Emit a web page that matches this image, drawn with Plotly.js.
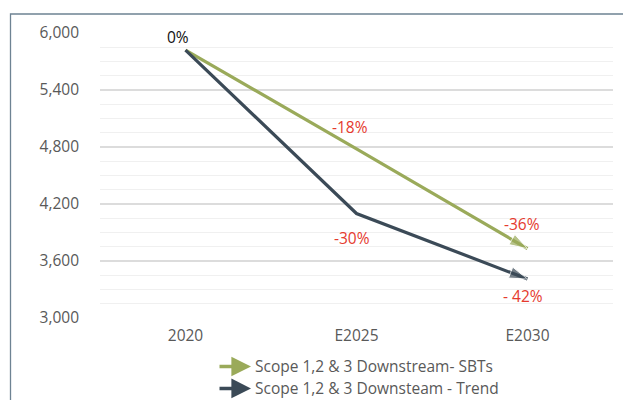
<!DOCTYPE html>
<html>
<head>
<meta charset="utf-8">
<script src="https://cdn.plot.ly/plotly-3.0.1.min.js"></script>
<style>html,body{margin:0;padding:0;background:#fff;}#chart{width:623px;height:400px;}</style>
</head>
<body>
<div id="chart"></div>
<script>
const categories = ["2020", "E2025", "E2030"];
const sbtValues = [5820, 4780, 3730];
const trendValues = [5820, 4100, 3410];
const sbtLabels = ["0%", "-18%", "-36%"];
const trendLabels = ["", "-30%", "- 42%"];
const seriesNames = ["Scope 1,2 & 3 Downstream- SBTs", "Scope 1,2 & 3 Downsteam - Trend"];
const yTicks = [3000, 3600, 4200, 4800, 5400, 6000];

const green = "#9aaa5a";
const dark = "#3b4a57";
const red = "#e53a2e";
const font = "Open Sans, Noto Sans, sans-serif";
const fs = 15.5;

function tr(vals, color, name) {
  return {
    x: categories, y: vals, name: name, type: "scatter", mode: "lines+markers",
    line: {color: color, width: 3.2},
    marker: {symbol: "arrow", angleref: "previous", size: vals.map((v, i) => i === vals.length - 1 ? 19 : 0), color: color},
    showlegend: false, hoverinfo: "skip"
  };
}

const ann = [];
// data labels (x given as category index)
ann.push({x: 0, y: sbtValues[0], text: sbtLabels[0], showarrow: false, yshift: 13, xshift: -8, font: {family: font, size: fs, color: "#111"}});
ann.push({x: 1, y: sbtValues[1], text: sbtLabels[1], showarrow: false, yshift: 22, xshift: -7, font: {family: font, size: fs, color: red}});
ann.push({x: 2, y: sbtValues[2], text: sbtLabels[2], showarrow: false, yshift: 25, xshift: -6, font: {family: font, size: fs, color: red}});
ann.push({x: 1, y: trendValues[1], text: trendLabels[1], showarrow: false, yshift: -24, xshift: -5, font: {family: font, size: fs, color: red}});
ann.push({x: 2, y: trendValues[2], text: trendLabels[2], showarrow: false, yshift: -17, xshift: -5, font: {family: font, size: fs, color: red}});

// custom legend with arrows
const legY = [-0.17, -0.247];
const colors = [green, dark];
for (let i = 0; i < 2; i++) {
  ann.push({xref: "paper", yref: "paper", x: (251 - 100) / 513, y: legY[i], ax: -33, ay: 0,
    showarrow: true, arrowhead: 2, arrowsize: 1.12, arrowwidth: 3.5, arrowcolor: colors[i], text: ""});
  ann.push({xref: "paper", yref: "paper", x: (253 - 100) / 513, y: legY[i], xanchor: "left", yanchor: "middle",
    showarrow: false, text: seriesNames[i], font: {family: font, size: fs, color: "#595959"}});
}

const layout = {
  width: 623, height: 400,
  margin: {l: 100, r: 10, t: 33, b: 82},
  paper_bgcolor: "#fff", plot_bgcolor: "#fff",
  font: {family: font, size: fs, color: "#595959"},
  xaxis: {type: "category", range: [-0.5, 2.5], showgrid: false, zeroline: false, showline: false,
    ticks: "", ticklabelstandoff: 6, tickfont: {family: font, size: fs, color: "#595959"}, fixedrange: true},
  yaxis: {range: [3000, 6000], tickvals: yTicks, tickformat: ",d", showgrid: true, gridcolor: "#dcdcdc", gridwidth: 1.3,
    zeroline: false, showline: false, ticks: "", ticklabelstandoff: 20,
    minor: {dtick: 150, tick0: 3000, showgrid: true, gridcolor: "#f0f0f0", gridwidth: 1},
    tickfont: {family: font, size: fs, color: "#595959"}},
  showlegend: false,
  annotations: ann,
  shapes: [{type: "path", xref: "paper", yref: "paper",
    path: "M " + ((10.5 - 100) / 513) + "," + (-(400 - 318) / 285 - 0.01) + " L " + ((10.5 - 100) / 513) + "," + (1 + 19 / 285) + " L " + ((640 - 100) / 513) + "," + (1 + 19 / 285),
    line: {color: "#6e8393", width: 1.3}}]
};

Plotly.newPlot("chart", [tr(sbtValues, green, seriesNames[0]), tr(trendValues, dark, seriesNames[1])], layout, {displayModeBar: false, staticPlot: true});
</script>
</body>
</html>
